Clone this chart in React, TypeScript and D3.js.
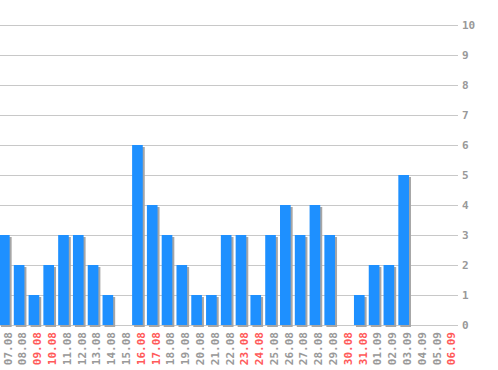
import React from "react";
import * as d3 from "d3";

const dates = ["07.08","08.08","09.08","10.08","11.08","12.08","13.08","14.08","15.08","16.08","17.08","18.08","19.08","20.08","21.08","22.08","23.08","24.08","25.08","26.08","27.08","28.08","29.08","30.08","31.08","01.09","02.09","03.09","04.09","05.09","06.09"];
const values = [3,2,1,2,3,3,2,1,0,6,4,3,2,1,1,3,3,1,3,4,3,4,3,0,1,2,2,5,0,0,0];
const weekend = ["09.08","10.08","16.08","17.08","23.08","24.08","30.08","31.08","06.09"];
const yTicks = [0,1,2,3,4,5,6,7,8,9,10];

export default function App() {
  const W = 498, H = 370;
  const step = 14.79;
  const pad = 0.28;
  const r0 = -1 - (pad * step) / 2;
  const x = d3.scaleBand<string>().domain(dates).range([r0, r0 + dates.length * step]).paddingInner(pad).paddingOuter(pad / 2);
  const y = d3.scaleLinear().domain([0, 10]).range([325, 25]);
  const font = "'DejaVu Sans Mono', monospace";
  return (
    <svg width={W} height={H} style={{ position: "absolute", left: 0, top: 0, background: "#fff" }}>
      {yTicks.map((t) => (
        <g key={t}>
          <line x1={0} x2={458} y1={y(t)} y2={y(t)} stroke="#c8c8c8" strokeWidth={1} shapeRendering="crispEdges" />
          <text x={462} y={y(t)} dy="0.35em" fontFamily={font} fontSize={11} fill="#999" fontWeight="bold">{t}</text>
        </g>
      ))}
      {dates.map((d, i) => {
        const v = values[i];
        if (v <= 0) return null;
        const bx = x(d)!;
        const bw = x.bandwidth();
        return (
          <g key={d}>
            <rect x={bx + 2} y={y(v) + 2} width={bw} height={y(0) - y(v)} fill="#a6a6a6" />
            <rect x={bx} y={y(v)} width={bw} height={y(0) - y(v)} fill="#1e90ff" />
          </g>
        );
      })}
      {dates.map((d) => {
        const cx = x(d)! + x.bandwidth() / 2 + 3.5;
        return (
          <text key={d} transform={`translate(${cx},332) rotate(-90)`} textAnchor="end" dy="0.35em" fontFamily={font} fontSize={11} fontWeight="bold" fill={weekend.includes(d) ? "#ff5a5a" : "#999"}>{d}</text>
        );
      })}
    </svg>
  );
}
